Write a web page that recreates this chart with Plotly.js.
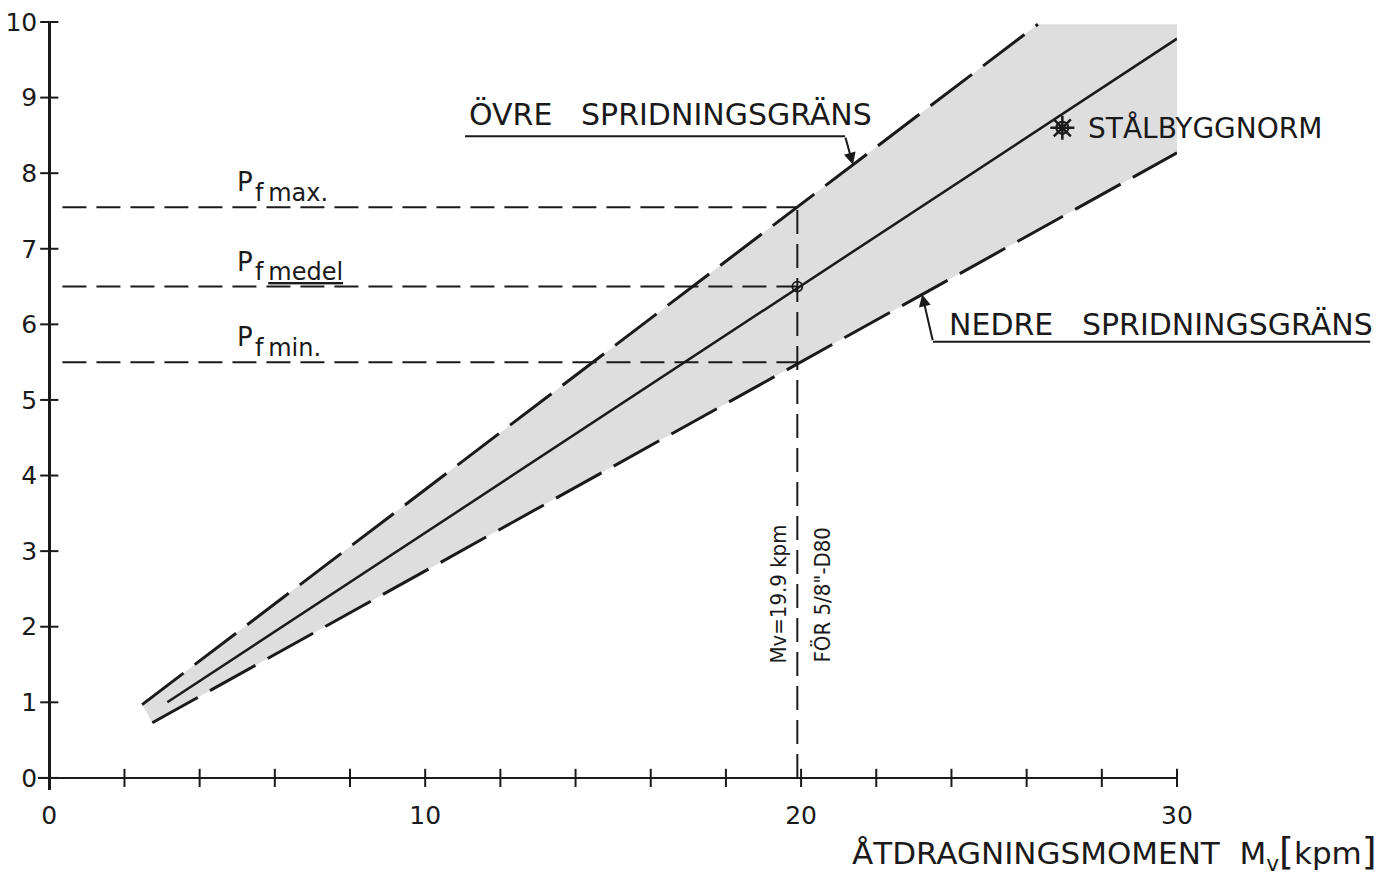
<!DOCTYPE html>
<html><head><meta charset="utf-8">
<script src="https://cdn.plot.ly/plotly-3.0.1.min.js"></script>
<style>html,body{margin:0;padding:0;background:#fff}#chart{width:1389px;height:875px}</style>
</head><body><div id="chart"></div>
<script>
// ---- data ----
const upperX = [2.47, 26.3];           // övre spridningsgräns
const upperY = [0.97, 9.97];
const middleX = [3.14, 30.0];          // medelvärde
const middleY = [1.0, 9.78];
const lowerX = [2.74, 30.0];           // nedre spridningsgräns
const lowerY = [0.73, 8.27];
const bandX = [2.47, 26.3, 30.0, 30.0, 2.74];   // skuggat spridningsområde
const bandY = [0.97, 9.97, 9.97, 8.27, 0.73];
const mvValue = 19.9;                  // Mv = 19.9 kpm
const pfLevels = [7.55, 6.5, 5.5];     // Pf max, medel, min
const pfNames = ['max.', 'medel', 'min.'];
const normX = [26.95];                 // STÅLBYGGNORM
const normY = [8.6];
const xTickVals = [0,2,4,6,8,10,12,14,16,18,20,22,24,26,28,30];
const xTickText = ['0','','','','','10','','','','','20','','','','','30'];
const yTickVals = [0,1,2,3,4,5,6,7,8,9,10];
const yTickText = ['0','1','2','3','4','5','6','7','8','9','10'];

const XR = [-0.3, 30];
const YR = [-0.16, 10];
const xp = v => (v - XR[0]) / (XR[1] - XR[0]);
const yp = v => (v - YR[0]) / (YR[1] - YR[0]);
function lineAt(xs, ys, x){ return ys[0] + (ys[1]-ys[0])*(x - xs[0])/(xs[1]-xs[0]); }

const FONT = 'DejaVu Sans';
const CFONT = 'DejaVu Sans Condensed, DejaVu Sans';
const INK = '#1a1a1a';

const traces = [
  {x: bandX, y: bandY, type:'scatter', mode:'lines', fill:'toself',
   fillcolor:'#dedede', line:{width:0}, hoverinfo:'skip', showlegend:false},
  {x: upperX, y: upperY, type:'scatter', mode:'lines',
   line:{color:INK, width:3, dash:'52px,14px'}, showlegend:false},
  {x: lowerX, y: lowerY, type:'scatter', mode:'lines',
   line:{color:INK, width:3, dash:'52px,14px'}, showlegend:false},
  {x: middleX, y: middleY, type:'scatter', mode:'lines',
   line:{color:INK, width:2.5}, showlegend:false}
];
pfLevels.forEach(l => traces.push({x:[0.35, mvValue], y:[l, l], type:'scatter', mode:'lines',
  line:{color:INK, width:2, dash:'24px,10px'}, showlegend:false}));
traces.push({x:[mvValue, mvValue], y:[0, pfLevels[0]], type:'scatter', mode:'lines',
  line:{color:INK, width:2, dash:'24px,10px'}, showlegend:false});
traces.push({x:[mvValue], y:[pfLevels[1]], type:'scatter', mode:'markers',
  marker:{symbol:'circle-open', size:10, color:INK, line:{width:1.8}}, showlegend:false});
traces.push({x:normX, y:normY, type:'scatter', mode:'markers',
  marker:{symbol:'asterisk-open', size:20, color:INK, line:{width:2.5, color:INK}}, showlegend:false});
traces.push({x:normX, y:normY, type:'scatter', mode:'markers',
  marker:{symbol:'circle-open', size:12, color:INK, line:{width:2.2, color:INK}}, showlegend:false});
// tick marks crossing the axes
traces.push({x:xTickVals, y:xTickVals.map(() => 0), type:'scatter', mode:'markers', cliponaxis:false,
  marker:{symbol:'line-ns-open', size:13, color:INK, line:{width:2, color:INK}}, showlegend:false, hoverinfo:'skip'});
traces.push({x:yTickVals.map(() => 0), y:yTickVals, type:'scatter', mode:'markers', cliponaxis:false,
  marker:{symbol:'line-ew-open', size:13, color:INK, line:{width:2, color:INK}}, showlegend:false, hoverinfo:'skip'});

const ann = [];
// Pf labels
pfLevels.forEach((l, i) => {
  ann.push({x:4.95, y:l+0.33, xref:'x', yref:'y', xanchor:'left', yanchor:'middle', showarrow:false,
    text:'P', font:{family:FONT, size:26, color:INK}});
  const sub = pfNames[i] === 'medel' ? 'f\u2009<u>medel</u>' : 'f\u2009' + pfNames[i];
  ann.push({x:5.42, y:l+0.19, xref:'x', yref:'y', xanchor:'left', yanchor:'middle', showarrow:false,
    text:sub, font:{family:FONT, size:24, color:INK}});
});
// ÖVRE
ann.push({x:11.11, y:8.776, xref:'x', yref:'y', xanchor:'left', yanchor:'middle', showarrow:false,
  text:'ÖVRE\u00a0\u00a0\u00a0SPRIDNINGSGRÄNS', font:{family:FONT, size:30, color:INK}});
const ovTail = [21.17, 8.49], ovHeadX = 21.38;
ann.push({x:ovHeadX, y:lineAt(upperX, upperY, ovHeadX), ax:ovTail[0], ay:ovTail[1], xref:'x', yref:'y',
  axref:'x', ayref:'y', text:'', showarrow:true, arrowhead:2, arrowsize:1.2, arrowwidth:2, arrowcolor:INK});
// NEDRE
ann.push({x:23.88, y:6.0, xref:'x', yref:'y', xanchor:'left', yanchor:'middle', showarrow:false,
  text:'NEDRE\u00a0\u00a0\u00a0SPRIDNINGSGRÄNS', font:{family:FONT, size:30, color:INK}});
const neTail = [23.51, 5.77], neHeadX = 23.22;
ann.push({x:neHeadX, y:lineAt(lowerX, lowerY, neHeadX), ax:neTail[0], ay:neTail[1], xref:'x', yref:'y',
  axref:'x', ayref:'y', text:'', showarrow:true, arrowhead:2, arrowsize:1.2, arrowwidth:2, arrowcolor:INK});
// STÅLBYGGNORM
ann.push({x:normX[0], y:normY[0], xref:'x', yref:'y', xanchor:'left', yanchor:'middle', xshift:24, showarrow:false,
  text:'STÅLBYGGNORM', font:{family:FONT, size:28, color:INK}});
// rotated Mv text
ann.push({x:mvValue, y:2.43, xref:'x', yref:'y', xshift:-19, textangle:-90, showarrow:false,
  text:'Mv=19.9 kpm', font:{family:CFONT, size:22, color:INK}});
ann.push({x:mvValue, y:2.43, xref:'x', yref:'y', xshift:25, textangle:-90, showarrow:false,
  text:'FÖR 5/8"-D80', font:{family:CFONT, size:22, color:INK}});
// axis title
ann.push({x:1.1775, y:-0.081, xref:'paper', yref:'paper', xanchor:'right', yanchor:'middle', showarrow:false,
  text:'ÅTDRAGNINGSMOMENT\u00a0\u00a0M<sub>v</sub><span style="font-size:38px">[</span>kpm<span style="font-size:38px">]</span>',
  font:{family:FONT, size:31, color:INK}});

const shapes = [
  {type:'line', xref:'x', yref:'y', x0:11.06, x1:ovTail[0], y0:ovTail[1], y1:ovTail[1], line:{color:INK, width:2}},
  {type:'line', xref:'paper', yref:'paper', x0:xp(neTail[0]), x1:xp(35.14), y0:yp(neTail[1]), y1:yp(neTail[1]), line:{color:INK, width:2}}
];

const axBase = {showgrid:false, zeroline:false, fixedrange:true};
const layout = {
  width:1389, height:875,
  margin:{l:38, r:212, t:22, b:85},
  paper_bgcolor:'#ffffff', plot_bgcolor:'#ffffff',
  showlegend:false,
  xaxis:Object.assign({}, axBase, {range:XR, anchor:'free', position:yp(0),
    showline:true, linewidth:2.5, linecolor:INK,
    tickmode:'array', tickvals:xTickVals, ticktext:xTickText,
    ticks:'', ticklabelstandoff:15,
    tickfont:{family:FONT, size:25, color:INK}}),
  yaxis:Object.assign({}, axBase, {range:YR, anchor:'free', position:xp(0),
    showline:true, linewidth:2.5, linecolor:INK,
    tickmode:'array', tickvals:yTickVals, ticktext:yTickText,
    ticks:'', ticklabelstandoff:6,
    tickfont:{family:FONT, size:25, color:INK}}),
  annotations:ann,
  shapes:shapes
};

Plotly.newPlot('chart', traces, layout, {displayModeBar:false, staticPlot:true});
</script>
</body></html>
